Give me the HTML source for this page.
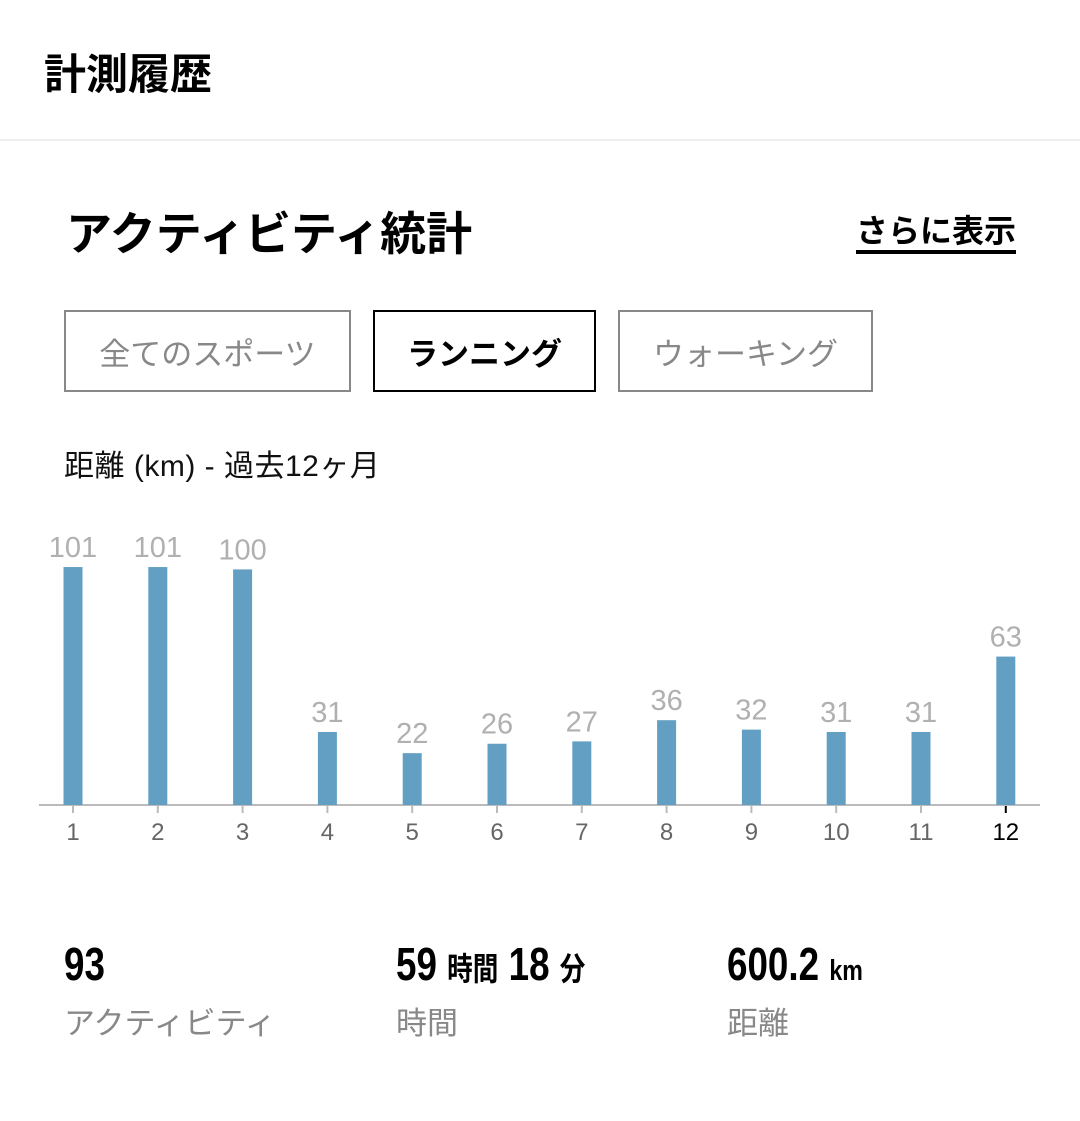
<!DOCTYPE html>
<html><head><meta charset="utf-8"><style>
body{margin:0;width:1080px;height:1121px;background:#fff;font-family:"Liberation Sans","Noto Sans CJK JP",sans-serif;position:relative;overflow:hidden}
.a{position:absolute;white-space:nowrap}
.btn{position:absolute;top:310px;height:78px;border:2px solid #888;box-sizing:content-box;font-size:31px;color:#888;display:flex;align-items:center;justify-content:center}
.num{font-weight:bold;font-size:46px;color:#000;display:inline-block;transform:scaleX(0.8);transform-origin:left}
.lbl{font-size:31px;color:#888}
</style></head><body>
<div class="a" style="left:44px;top:41px;font-size:42px;font-weight:bold">計測履歴</div>
<div class="a" style="left:0;top:139px;width:1080px;height:2px;background:#eee"></div>
<div class="a" style="left:66px;top:198px;font-size:46px;font-weight:bold">アクティビティ統計</div>
<div class="a" style="right:64px;top:212px;font-size:32px;font-weight:bold;border-bottom:4px solid #000;line-height:38px">さらに表示</div>
<div class="btn" style="left:64px;width:283px">全てのスポーツ</div>
<div class="btn" style="left:373px;width:219px;border-color:#000;color:#000;font-weight:bold">ランニング</div>
<div class="btn" style="left:618px;width:251px">ウォーキング</div>
<div class="a" style="left:64px;top:441px;font-size:30px;color:#111;letter-spacing:0.5px">距離 (km) - 過去12ヶ月</div>
<svg class="a" style="left:0;top:0" width="1080" height="1121">
<g font-family="Liberation Sans, sans-serif" text-anchor="middle">
<line x1="39" y1="805" x2="1040" y2="805" stroke="#bbb" stroke-width="2"/>
<g id="bars"></g>
</g>
</svg>
<script>
var v=[101,101,100,31,22,26,27,36,32,31,31,63],g=document.getElementById('bars'),s='';
for(var i=0;i<12;i++){var x=73+i*84.8,h=v[i]*2.356,t=805-h;
s+='<rect x="'+(x-9.5)+'" y="'+t+'" width="19" height="'+h+'" fill="#639fc2"/>';
s+='<text x="'+x+'" y="'+(t-10)+'" font-size="29" fill="#b0b0b0">'+v[i]+'</text>';
s+='<line x1="'+x+'" y1="806" x2="'+x+'" y2="813" stroke="'+(i==11?'#000':'#bbb')+'" stroke-width="2"/>';
s+='<text x="'+x+'" y="840" font-size="24" fill="'+(i==11?'#000':'#666')+'">'+(i+1)+'</text>';}
g.innerHTML=s;
</script>
<div class="a" style="left:64px;top:937px"><span class="num">93</span></div>
<div class="a" style="left:396px;top:937px"><span class="num">59 <span style="font-size:32px">時間</span> 18 <span style="font-size:32px">分</span></span></div>
<div class="a" style="left:727px;top:937px"><span class="num">600.2 <span style="font-size:29px">km</span></span></div>
<div class="a lbl" style="left:64px;top:998px">アクティビティ</div>
<div class="a lbl" style="left:396px;top:998px">時間</div>
<div class="a lbl" style="left:727px;top:998px">距離</div>
</body></html>
